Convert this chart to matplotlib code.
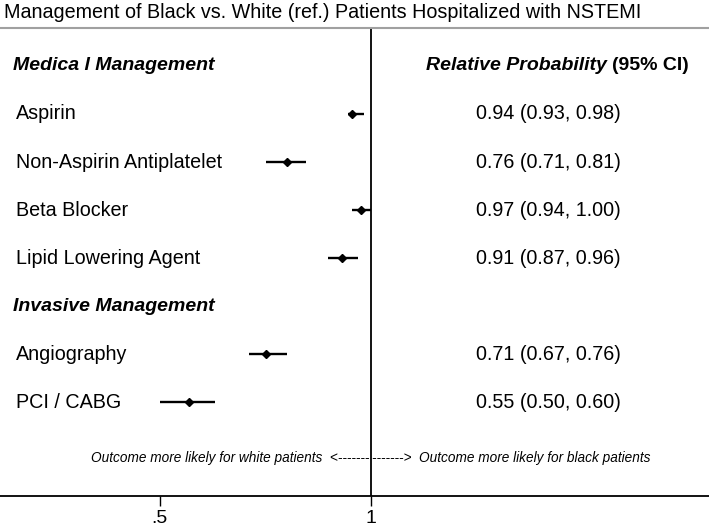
import matplotlib.pyplot as plt
import matplotlib.transforms as mtransforms

plt.rcParams['font.family'] = ['Liberation Sans', 'DejaVu Sans']

# rows top to bottom (1 = first header)
headers = ['Medica l Management', 'Invasive Management']
header_rows = [1, 6]

outcomes = ['Aspirin', 'Non-Aspirin Antiplatelet', 'Beta Blocker',
            'Lipid Lowering Agent', 'Angiography', 'PCI / CABG']
outcome_rows = [2, 3, 4, 5, 7, 8]
rp = [0.94, 0.76, 0.97, 0.91, 0.71, 0.55]
ci_low = [0.93, 0.71, 0.94, 0.87, 0.67, 0.50]
ci_high = [0.98, 0.81, 1.00, 0.96, 0.76, 0.60]

tick_pos = [0.5, 1.0]
tick_labels = ['.5', '1']

fig = plt.figure(figsize=(7.09, 5.24), dpi=100)
ax = fig.add_axes([0, 0.0534, 1, 0.8932])
ax.set_xscale('log')
ax.set_xlim(0.296, 3.04)
ax.set_ylim(9.95, 0.21)

ax.axvline(1, color='black', lw=1.3, zorder=1)

for y, m, lo, hi in zip(outcome_rows, rp, ci_low, ci_high):
    ax.plot([lo, hi], [y, y], color='black', lw=1.7, solid_capstyle='butt')
    ax.plot(m, y, marker='D', color='black', markersize=3.6)

trans = mtransforms.blended_transform_factory(ax.transAxes, ax.transData)

for name, y in zip(headers, header_rows):
    ax.text(0.018, y, name, transform=trans, fontsize=14, fontweight='bold',
            fontstyle='italic', va='center', ha='left')

for name, y, m, lo, hi in zip(outcomes, outcome_rows, rp, ci_low, ci_high):
    ax.text(0.0226, y, name, transform=trans, fontsize=14.2, va='center', ha='left')
    ax.text(0.774, y, f'{m:.2f} ({lo:.2f}, {hi:.2f})', transform=trans,
            fontsize=14.2, va='center', ha='center')

ax.text(0.856, 1, 'Relative Probability', transform=trans, fontsize=14,
        fontweight='bold', fontstyle='italic', va='center', ha='right')
ax.text(0.863, 1, '(95% CI)', transform=trans, fontsize=14,
        fontweight='bold', va='center', ha='left')

ax.text(0.995, 9.15, 'Outcome more likely for white patients  <-------',
        fontsize=9.8, fontstyle='italic', va='center', ha='right')
ax.text(1.005, 9.15, '------->  Outcome more likely for black patients',
        fontsize=9.8, fontstyle='italic', va='center', ha='left')

ax.set_xticks(tick_pos)
ax.set_xticklabels(tick_labels, fontsize=14)
ax.xaxis.set_minor_locator(plt.NullLocator())
ax.tick_params(axis='x', length=7, width=1, pad=3)
ax.set_yticks([])

for side in ['left', 'right']:
    ax.spines[side].set_visible(False)
ax.spines['bottom'].set_linewidth(1.3)
ax.spines['top'].set_color('#a0a0a0')
ax.spines['top'].set_linewidth(1.5)

fig.text(0.005, 0.977, 'Management of Black vs. White (ref.) Patients Hospitalized with NSTEMI',
         fontsize=14.2, va='center', ha='left')

fig.savefig('out.png', dpi=100)
